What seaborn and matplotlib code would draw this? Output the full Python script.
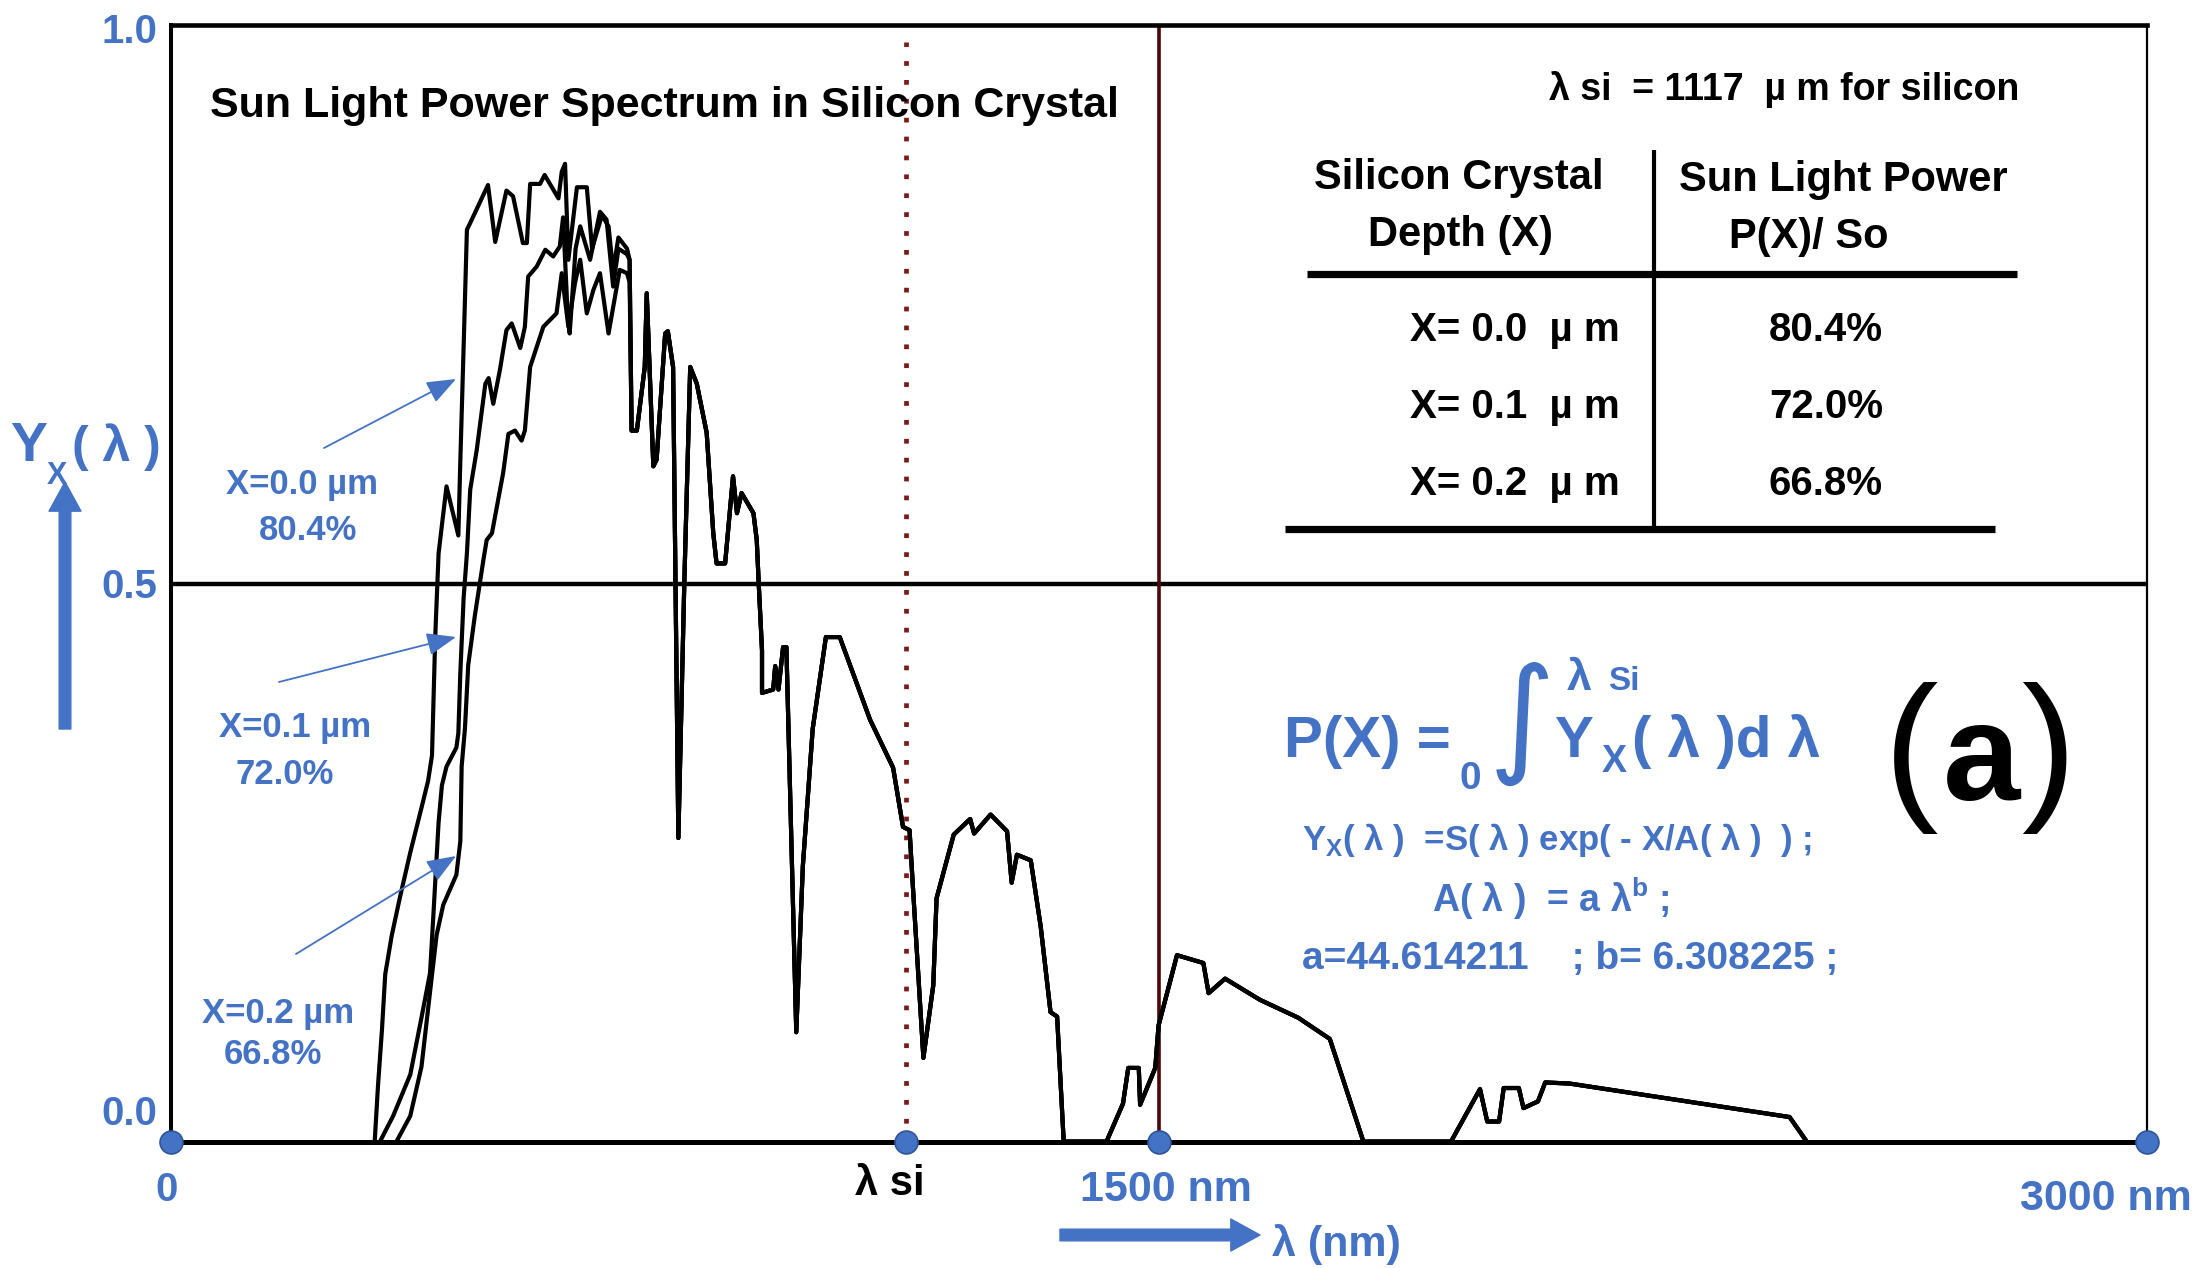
import numpy as np
import pandas as pd
import matplotlib
matplotlib.use("Agg")
import matplotlib.pyplot as plt
import seaborn as sns
from matplotlib.lines import Line2D
from matplotlib.patches import FancyArrowPatch

# ---------------- data ----------------
wl_x00 = [310, 315, 321, 326, 336, 348, 364, 381, 391, 397, 402, 407, 419, 437, 440,
          445, 450, 455, 482, 493, 510, 520, 535, 541, 546, 561, 568, 589, 594, 599,
          604, 617, 632, 640, 655, 665, 672, 680, 693, 697]
y_x00 = [0.0, 0.05, 0.10, 0.15, 0.185, 0.218, 0.259, 0.299, 0.323, 0.346, 0.454, 0.527, 0.587, 0.543, 0.61,
         0.712, 0.817, 0.823, 0.857, 0.806, 0.852, 0.847, 0.805, 0.805, 0.858, 0.858, 0.866, 0.845, 0.869, 0.876,
         0.79, 0.855, 0.855, 0.80, 0.83, 0.82, 0.78, 0.81, 0.80, 0.79]

wl_x01 = [318, 338, 364, 381, 394, 399, 407, 412, 419, 434, 437, 440, 445, 450, 455,
          465, 478, 483, 490, 500, 510, 518, 531, 538, 543, 556, 569, 581, 591, 596,
          603, 606, 615, 622, 637, 652, 662, 672, 680, 693, 697]
y_x01 = [0.0, 0.023, 0.06, 0.111, 0.151, 0.202, 0.286, 0.319, 0.336, 0.353, 0.366, 0.42, 0.487, 0.527, 0.584,
         0.62, 0.679, 0.684, 0.661, 0.691, 0.727, 0.733, 0.711, 0.73, 0.775, 0.784, 0.799, 0.793, 0.802, 0.828,
         0.74, 0.724, 0.80, 0.82, 0.79, 0.833, 0.826, 0.766, 0.80, 0.795, 0.79]

wl_x02 = [343, 364, 381, 394, 404, 414, 434, 440, 442, 447, 452, 462, 475, 480, 488,
          505, 513, 523, 533, 538, 546, 566, 586, 594, 604, 614, 622, 632, 642, 652,
          665, 682, 693, 697]
y_x02 = [0.0, 0.023, 0.067, 0.134, 0.185, 0.212, 0.239, 0.269, 0.336, 0.37, 0.427, 0.471, 0.521, 0.539, 0.545,
         0.599, 0.634, 0.637, 0.628, 0.637, 0.694, 0.73, 0.742, 0.778, 0.73, 0.769, 0.79, 0.742, 0.763, 0.778,
         0.724, 0.781, 0.778, 0.77]

# common long-wavelength part (the three depths coincide there)
wl_tail = [700, 708, 720, 723, 733, 738, 751, 755, 763, 771, 780, 789, 799, 814, 824,
           829, 842, 854, 860, 867, 885, 890, 893, 898, 898, 915, 918, 923, 930, 935,
           950, 960, 975, 995, 1016, 1062, 1097, 1112, 1122, 1127, 1143, 1158, 1163, 1189, 1214,
           1220, 1245, 1270, 1277, 1285, 1306, 1321, 1336, 1346, 1356, 1421, 1446, 1454, 1470, 1472,
           1495, 1500, 1528, 1568, 1576, 1601, 1654, 1712, 1760, 1811, 1944, 1988, 1999, 2017, 2024,
           2047, 2054, 2076, 2087, 2124, 2458, 2484]
y_tail = [0.637, 0.637, 0.694, 0.76, 0.605, 0.611, 0.724, 0.726, 0.694, 0.272, 0.50, 0.694, 0.679, 0.635, 0.545,
          0.518, 0.518, 0.596, 0.563, 0.581, 0.563, 0.539, 0.5, 0.44, 0.402, 0.405, 0.426, 0.405, 0.443, 0.443,
          0.098, 0.247, 0.37, 0.452, 0.452, 0.378, 0.335, 0.282, 0.279, 0.229, 0.075, 0.14, 0.218, 0.275, 0.289,
          0.276, 0.293, 0.278, 0.232, 0.257, 0.252, 0.193, 0.116, 0.112, 0.0, 0.0, 0.034, 0.066, 0.066, 0.033,
          0.066, 0.104, 0.167, 0.160, 0.133, 0.146, 0.127, 0.111, 0.092, 0.0, 0.0, 0.047, 0.018, 0.018, 0.048,
          0.048, 0.030, 0.036, 0.053, 0.052, 0.022, 0.0]

lambda_si = 1117
marker_nm = [0, 1117, 1500, 3000]
ytick_vals = [1.0, 0.5, 0.0]
ytick_labels = ["1.0", "0.5", "0.0"]
depth_names = ["X=0.0 µm", "X=0.1 µm", "X=0.2 µm"]
depth_power = ["80.4%", "72.0%", "66.8%"]
table_depths = ["X= 0.0  µ m", "X= 0.1  µ m", "X= 0.2  µ m"]

# ---------------- style ----------------
sns.set_theme(style="white")
FAM = ["Liberation Sans", "DejaVu Sans"]
plt.rcParams["font.family"] = FAM
BLUE = "#4472C4"

W, H = 2210, 1268
fig = plt.figure(figsize=(W / 100, H / 100), dpi=100)
L, R, T, B = 170.5, 2146.6, 25.4, 1141.6
ax = fig.add_axes([L / W, 1 - B / H, (R - L) / W, (B - T) / H])

frames = []
for name, wl, yv in zip(depth_names, [wl_x00, wl_x01, wl_x02], [y_x00, y_x01, y_x02]):
    frames.append(pd.DataFrame({"wavelength": list(wl) + wl_tail,
                                "Y": list(yv) + y_tail,
                                "depth": name}))
df = pd.concat(frames, ignore_index=True)

sns.lineplot(data=df, x="wavelength", y="Y", hue="depth", hue_order=depth_names,
             palette=["black"] * 3, estimator=None, sort=False, legend=False,
             linewidth=3.0, ax=ax, zorder=3)

ax.set_xlim(0, 3000)
ax.set_ylim(0, 1)
ax.set_xticks([])
ax.set_yticks([])
ax.set_xlabel("")
ax.set_ylabel("")
for side, lw in [("top", 3.3), ("bottom", 3.6), ("left", 2.9), ("right", 1.6)]:
    ax.spines[side].set_color("black")
    ax.spines[side].set_linewidth(lw)
    ax.spines[side].set_visible(True)

ax.axhline(0.5, color="black", lw=3.2, zorder=2)
ax.axvline(1500, color="#4a0808", lw=2.6, zorder=2)
ax.vlines(lambda_si, 0, 0.985, colors="#7a1a1a", linestyles=(0, (1, 3)), lw=3.4, zorder=2)
ax.plot(marker_nm, [0] * len(marker_nm), "o", ms=16.5, mfc=BLUE, mec="#2F5597", mew=1.2,
        clip_on=False, zorder=10)


def F(fx, fy):
    return fx / W, 1 - fy / H


def txt(fx, fy, s, size, color="black", weight="bold", ha="left", va="baseline", family=None, **kw):
    fig.text(*F(fx, fy), s, fontsize=size, color=color, fontweight=weight, ha=ha, va=va,
             family=family or FAM, **kw)


# y tick labels
tick_shift = {1.0: 3, 0.5: 0, 0.0: -32}
for val, lab in zip(ytick_vals, ytick_labels):
    fy = B - val * (B - T) + tick_shift[val]
    txt(157, fy, lab, 29, BLUE, ha="right", va="center_baseline")
txt(167, 1201, "0", 29, BLUE, ha="center")

# x labels
txt(890, 1195, "λ si", 30, "black", ha="center")
txt(1166, 1201, "1500 nm", 31, BLUE, ha="center")
txt(2106, 1210, "3000 nm", 31, BLUE, ha="center")
txt(1272, 1256, "λ (nm)", 31, BLUE)

# big blue axis arrows
for (x1, y1), (x2, y2) in [((1060, 1235), (1260, 1235)), ((65, 729), (65, 482))]:
    fig.patches.append(FancyArrowPatch(F(x1, y1), F(x2, y2), transform=fig.transFigure,
                                       arrowstyle="simple,head_length=1.05,head_width=1.15,tail_width=0.42",
                                       mutation_scale=20, color=BLUE, shrinkA=0, shrinkB=0))

# y label Y_X(λ)
txt(10, 461, "Y", 40, BLUE)
txt(47, 484, "X", 22, BLUE)
txt(72, 461, "( λ )", 36, BLUE)

# title
txt(210, 117, "Sun Light Power Spectrum in Silicon Crystal", 31, "black")

# depth labels and arrows on the left
label_pos = [(302, 494, 308, 540), (295, 737, 285, 784), (278, 1023, 273, 1064)]
for (x1, y1, x2, y2), n, p in zip(label_pos, depth_names, depth_power):
    txt(x1, y1, n, 25, BLUE, ha="center")
    txt(x2, y2, p, 25, BLUE, ha="center")
for (x1, y1), (x2, y2) in [((324, 448), (456, 379)), ((279, 682), (456, 637)), ((296, 954), (456, 856))]:
    fig.patches.append(FancyArrowPatch(F(x1, y1), F(x2, y2), transform=fig.transFigure,
                                       arrowstyle="-|>,head_length=0.9,head_width=0.35",
                                       mutation_scale=20, color=BLUE, lw=1.3, shrinkA=0, shrinkB=0))

# table
txt(1549, 100, "λ si  = 1117  µ m for silicon", 27, "black")
txt(1459, 189, "Silicon Crystal", 30, "black", ha="center")
txt(1461, 246, "Depth (X)", 30, "black", ha="center")
txt(1843, 191, "Sun Light Power", 30, "black", ha="center")
txt(1809, 248, "P(X)/ So", 30, "black", ha="center")
for fy, d, p in zip([341, 418, 495], table_depths, depth_power):
    txt(1620, fy, d, 29, "black", ha="right")
    txt(1826, fy, p, 29, "black", ha="center")
for xs, ys, lw in [((1653.7, 1653.7), (150, 526), 3.0),
                   ((1307, 2017), (274, 274), 5.2),
                   ((1285, 1995), (528.6, 528.6), 5.2)]:
    fig.add_artist(Line2D([x / W for x in xs], [1 - y / H for y in ys], color="black",
                          lw=lw, transform=fig.transFigure, solid_capstyle="butt"))

# formula
txt(1284, 757, "P(X) =", 42, BLUE)
txt(1522, 724, "∫", 92, BLUE, weight="normal", ha="center", va="center", family=["DejaVu Sans"])
txt(1470, 789, "0", 28, BLUE, ha="center")
txt(1567, 690, "λ", 32, BLUE)
txt(1608, 690, "Si", 24, BLUE)
txt(1554, 757, "Y", 42, BLUE)
txt(1602, 772, "X", 27, BLUE)
txt(1632, 757, "( λ )d λ", 42, BLUE)

txt(1302, 850, r"Y$_\mathregular{X}$( λ )  =S( λ ) exp( - X/A( λ )  ) ;", 25, BLUE)
txt(1432, 912, r"A( λ )  = a λ$^\mathregular{b}$ ;", 27, BLUE)
txt(1302, 969, "a=44.614211    ; b= 6.308225 ;", 28, BLUE)

txt(1884, 800, "(", 118, "black", weight="normal")
txt(1982, 800, "a", 100, "black", ha="center")
txt(2076, 800, ")", 118, "black", weight="normal", ha="right")

fig.savefig("out.png", dpi=100, facecolor="white")
